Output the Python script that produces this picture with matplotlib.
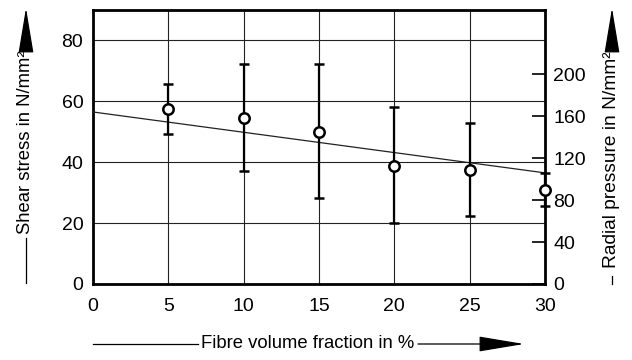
import matplotlib.pyplot as plt
from matplotlib.patches import FancyArrowPatch
from matplotlib.lines import Line2D

plt.rcParams['font.family'] = ['Liberation Sans', 'DejaVu Sans']

# data
fibre = [5, 10, 15, 20, 25, 30]
shear = [57.6, 54.5, 49.9, 38.7, 37.4, 30.8]
shear_hi = [65.8, 72.1, 72.1, 58.0, 52.8, 36.3]
shear_lo = [49.2, 37.0, 28.3, 19.9, 22.5, 25.6]
trend_x = [0, 30]
trend_y = [56.5, 36.5]
xticks = [0, 5, 10, 15, 20, 25, 30]
yticks = [0, 20, 40, 60, 80]
rticks = [0, 40, 80, 120, 160, 200]

W, H = 632, 360
fig = plt.figure(figsize=(W / 100, H / 100), dpi=100)
ax = fig.add_axes([93 / W, 1 - 284 / H, (545 - 93) / W, (284 - 10) / H])

err_lo = [s - l for s, l in zip(shear, shear_lo)]
err_hi = [h - s for s, h in zip(shear, shear_hi)]

ax.plot(trend_x, trend_y, color='#222', lw=0.9, zorder=3)
ax.errorbar(fibre, shear, yerr=[err_lo, err_hi], fmt='o', color='black',
            ecolor='black', elinewidth=1.6, capsize=3.6, capthick=1.6,
            markersize=7.5, markerfacecolor='white', markeredgewidth=1.8,
            zorder=4, clip_on=False)

ax.set_xlim(0, 30)
ax.set_ylim(0, 90)
ax.set_xticks(xticks)
ax.set_yticks(yticks)
ax.grid(True, color='#222', lw=0.8)
ax.tick_params(axis='both', length=0, labelsize=14)
ax.tick_params(axis='x', pad=10)
ax.tick_params(axis='y', pad=7)
for sp in ax.spines.values():
    sp.set_linewidth(2)

ax2 = ax.twinx()
ax2.set_ylim(0, 90 * 2.9)
ax2.set_yticks(rticks)
ax2.tick_params(axis='y', direction='in', length=9.5, width=1.2,
                labelsize=14, pad=6)
for sp in ax2.spines.values():
    sp.set_visible(False)


def fx(x):
    return x / W


def fy(y):
    return 1 - y / H


def seg(x0, y0, x1, y1):
    fig.add_artist(Line2D([fx(x0), fx(x1)], [fy(y0), fy(y1)],
                          transform=fig.transFigure, color='black', lw=0.9))


def arrow(x0, y0, x1, y1):
    fig.add_artist(FancyArrowPatch((fx(x0), fy(y0)), (fx(x1), fy(y1)),
                                   transform=fig.transFigure,
                                   arrowstyle='-|>,head_length=2.4,head_width=0.4',
                                   mutation_scale=12, color='black', lw=0.9,
                                   shrinkA=0, shrinkB=0))


# x label with arrow
fig.text(fx(308), fy(343), 'Fibre volume fraction in %', ha='center',
         va='center', fontsize=13.3)
seg(93, 344, 198, 344)
arrow(418, 344, 524, 344)

# left label with arrow
fig.text(fx(26), fy(142), 'Shear stress in N/mm²', ha='center', va='center',
         rotation=90, fontsize=13.3)
seg(26, 283, 26, 238)
arrow(26, 45, 26, 8)

# right label with arrow
fig.text(fx(612), fy(160), 'Radial pressure in N/mm²', ha='center',
         va='center', rotation=90, fontsize=13.8)
seg(612, 284, 612, 276)
arrow(612, 44, 612, 8)

fig.savefig('out.png', dpi=100)
